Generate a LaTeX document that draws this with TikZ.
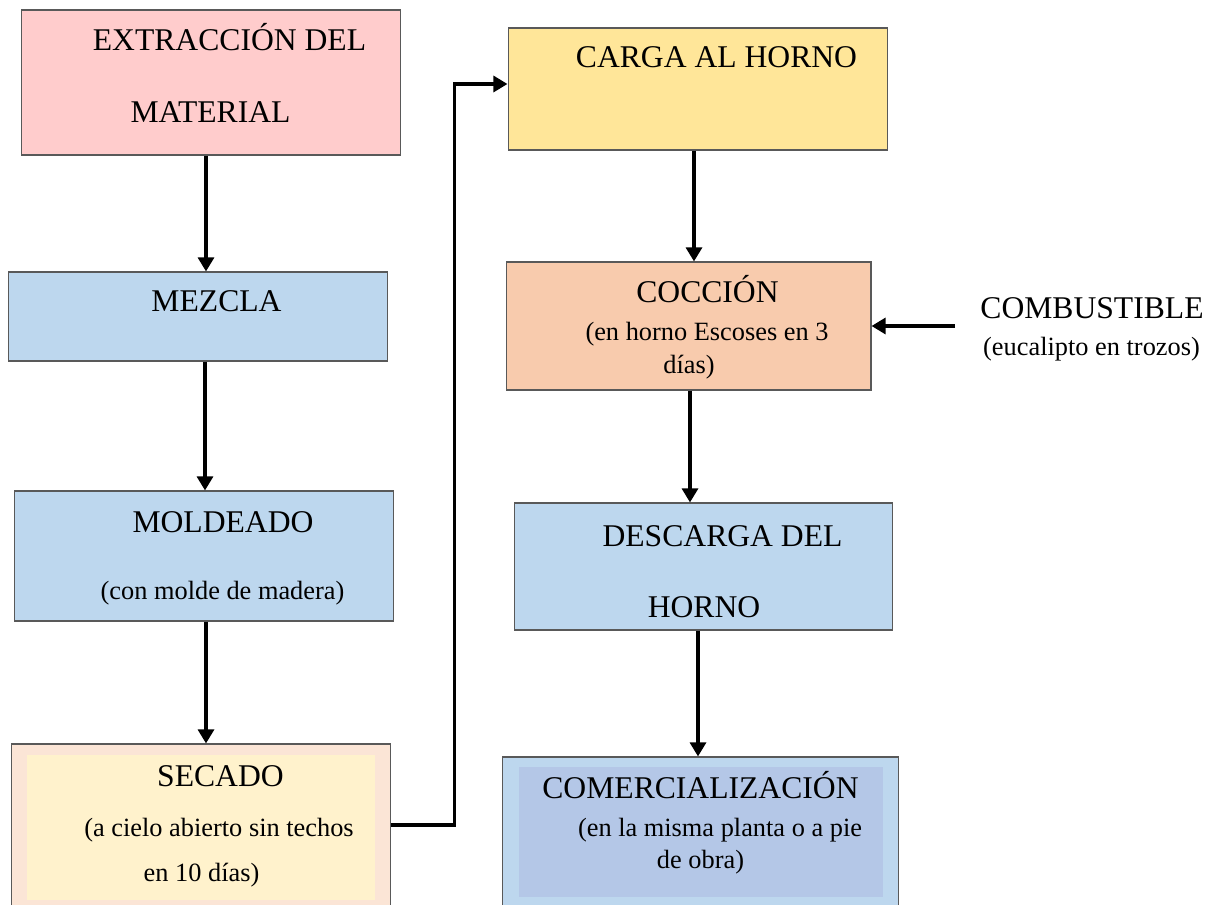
\documentclass[tikz,border=0pt]{standalone}
\usepackage{fontspec}
\setmainfont{Liberation Serif}
\usetikzlibrary{arrows.meta}
\definecolor{rosa}{HTML}{FFCCCC}
\definecolor{celeste}{HTML}{BDD7EE}
\definecolor{azul}{HTML}{B4C7E7}
\definecolor{amarillo}{HTML}{FFE699}
\definecolor{crema}{HTML}{FFF2CC}
\definecolor{salmon}{HTML}{F8CBAD}
\definecolor{durazno}{HTML}{FBE5D6}

\begin{document}
\begin{tikzpicture}[x=0.02cm,y=-0.02cm]%
  \tikzstyle{caja}=[rectangle,draw=black!65,line width=0.6pt,inner sep=0]
  \tikzstyle{fondo}=[rectangle,draw=none,inner sep=0]
  \tikzstyle{tit}=[anchor=base,inner sep=0,font=\fontsize{18}{21}\selectfont]
  \tikzstyle{sub}=[anchor=base,inner sep=0,font=\fontsize{15}{18}\selectfont]
  \tikzstyle{flecha}=[line width=2.2pt,-{Triangle[length=8pt,width=9pt]}]
  \clip (0,0) rectangle (1224,905);
  % columna izquierda
  \node(extr)[caja,fill=rosa,minimum width=7.6cm,minimum height=2.9cm] at (211,82.5) {};
  \node(mezcla)[caja,fill=celeste,minimum width=7.6cm,minimum height=1.78cm] at (198,316.5) {};
  \node(molde)[caja,fill=celeste,minimum width=7.6cm,minimum height=2.6cm] at (204,556) {};
  \node(secado)[caja,fill=durazno,minimum width=7.6cm,minimum height=3.36cm] at (201,828) {};
  \node(secin)[fondo,fill=crema,minimum width=6.96cm,minimum height=2.9cm] at (201,827.5) {};
  % columna derecha
  \node(carga)[caja,fill=amarillo,minimum width=7.6cm,minimum height=2.44cm] at (698,89) {};
  \node(coccion)[caja,fill=salmon,minimum width=7.3cm,minimum height=2.56cm] at (688.5,326) {};
  \node(descarga)[caja,fill=celeste,minimum width=7.58cm,minimum height=2.54cm] at (703.5,566.5) {};
  \node(comerc)[caja,fill=celeste,minimum width=7.94cm,minimum height=3.1cm] at (700.5,834.5) {};
  \node(comin)[fondo,fill=azul,minimum width=7.28cm,minimum height=2.6cm] at (701,832) {};
  \coordinate(comb) at (955,326);
  % textos
  \node(t1)[tit] at (229.5,51) {EXTRACCIÓN DEL};
  \node(t2)[tit] at (210.5,123) {MATERIAL};
  \node(t3)[tit] at (216.5,312) {MEZCLA};
  \node(t4)[tit] at (223,532) {MOLDEADO};
  \node(t5)[sub] at (222.5,599) {(con molde de madera)};
  \node(t6)[tit] at (220.5,786) {SECADO};
  \node(t7)[sub] at (219,836) {(a cielo abierto sin techos};
  \node(t8)[sub] at (201.5,881) {en 10 días)};
  \node(t9)[tit] at (716.5,68) {CARGA AL HORNO};
  \node(t10)[tit] at (707.5,303) {COCCIÓN};
  \node(t11)[sub] at (707,341) {(en horno Escoses en 3};
  \node(t12)[sub] at (689,374) {días)};
  \node(t13)[tit] at (1092,319) {COMBUSTIBLE};
  \node(t14)[sub] at (1091.5,356) {(eucalipto en trozos)};
  \node(t15)[tit] at (722.5,546) {DESCARGA DEL};
  \node(t16)[tit] at (704,617) {HORNO};
  \node(t17)[tit] at (700.5,798) {COMERCIALIZACIÓN};
  \node(t18)[sub] at (720,836) {(en la misma planta o a pie};
  \node(t19)[sub] at (700.5,868) {de obra)};
  % flechas
  \draw[flecha] ([xshift=-0.1cm]extr.south) -- ([xshift=-0.1cm]extr.south |- mezcla.north);
  \draw[flecha] ([xshift=0.14cm]mezcla.south) -- ([xshift=0.14cm]mezcla.south |- molde.north);
  \draw[flecha] ([xshift=0.04cm]molde.south) -- ([xshift=0.04cm]molde.south |- secado.north);
  \draw[flecha] ([yshift=0.06cm]secado.east) -- ++(63,0) |- ([yshift=0.1cm]carga.west);
  \draw[flecha] ([xshift=-0.08cm]carga.south) -- ([xshift=-0.08cm]carga.south |- coccion.north);
  \draw[flecha] ([xshift=0.03cm]coccion.south) -- ([xshift=0.03cm]coccion.south |- descarga.north);
  \draw[flecha] ([xshift=-0.11cm]descarga.south) -- ([xshift=-0.11cm]descarga.south |- comerc.north);
  \draw[flecha] (comb) -- (coccion.east);
\end{tikzpicture}
\end{document}
